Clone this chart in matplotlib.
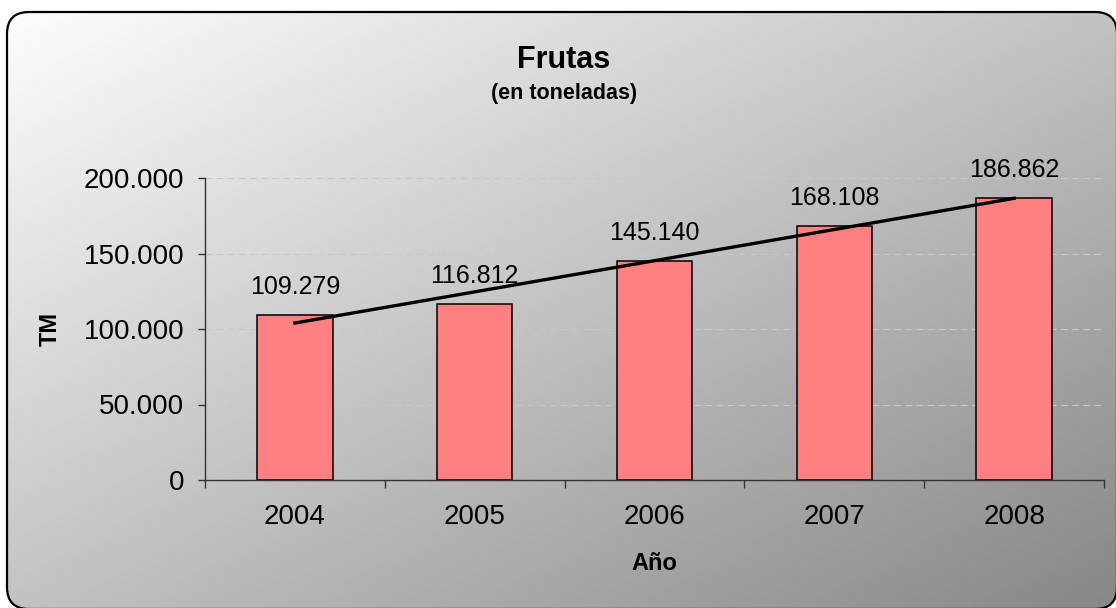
import numpy as np
import matplotlib
matplotlib.use("Agg")
import matplotlib.pyplot as plt
from matplotlib.patches import FancyBboxPatch
from matplotlib.ticker import FuncFormatter, FixedLocator

plt.rcParams['font.family'] = ['Liberation Sans', 'DejaVu Sans']

# ---- data ----
years = ["2004", "2005", "2006", "2007", "2008"]
values = [109279, 116812, 145140, 168108, 186862]
y_ticks = [0, 50000, 100000, 150000, 200000]
title = "Frutas"
subtitle = "(en toneladas)"
x_label = "Año"
y_label = "TM"

W, H = 1116, 608
fig = plt.figure(figsize=(W / 100, H / 100), dpi=100)
fig.patch.set_facecolor("white")

# ---- background gradient with rounded border ----
bg = fig.add_axes([0, 0, 1, 1], zorder=-10)
bg.set_xlim(0, W)
bg.set_ylim(H, 0)
bg.axis("off")
xx, yy = np.meshgrid(np.linspace(0, 1, 400), np.linspace(0, 1, 220))
t = (xx + yy) / 2.0
g = 1.0 - 0.47 * t
img = np.dstack([g, g, g])
im = bg.imshow(img, extent=(0, W, H, 0), aspect="auto", interpolation="bilinear")
box = FancyBboxPatch((7, 12), 1110, 597, boxstyle="round,pad=0,rounding_size=22",
                     facecolor="none", edgecolor="black", linewidth=1.6)
bg.add_patch(box)
im.set_clip_path(box)

# ---- main axes ----
left, right = 205 / W, 1104 / W
bottom, top = 1 - 480 / H, 1 - 178 / H
ax = fig.add_axes([left, bottom, right - left, top - bottom])
ax.set_facecolor("none")

x = np.arange(len(years))
ax.bar(x, values, width=0.42, color="#FF8080", edgecolor="black", linewidth=1.1, zorder=3)

# linear trendline
coef = np.polyfit(x, values, 1)
xt = np.array([x[0], x[-1]])
ax.plot(xt, np.polyval(coef, xt), color="black", linewidth=2.4, zorder=4)

for xi, v in zip(x, values):
    ax.annotate(f"{v:,}".replace(",", "."), xy=(xi, v), xytext=(0, 11.5),
                textcoords="offset points", ha="center", va="bottom",
                fontsize=18, color="black", zorder=5, annotation_clip=False)

ax.set_xlim(-0.5, len(years) - 0.5)
ax.set_ylim(0, 200000)

fmt = FuncFormatter(lambda v, p: f"{int(v):,}".replace(",", "."))
ax.yaxis.set_major_locator(FixedLocator(y_ticks))
ax.yaxis.set_major_formatter(fmt)
ax.tick_params(axis="y", direction="out", length=5, width=1, color="#333333",
               labelsize=20, pad=10)

ax.xaxis.set_major_locator(FixedLocator(np.arange(-0.5, len(years), 1.0)))
ax.xaxis.set_major_formatter(FuncFormatter(lambda v, p: ""))
ax.set_xticks(x, minor=True)
ax.set_xticklabels(years, minor=True)
ax.tick_params(axis="x", which="major", direction="out", length=6, width=1, color="#333333")
ax.tick_params(axis="x", which="minor", length=0, labelsize=20, pad=17)

ax.grid(axis="y", color="#c8c8c8", linestyle=(0, (6, 4)), linewidth=0.8, zorder=0)
ax.set_axisbelow(True)
for s in ["top", "right"]:
    ax.spines[s].set_visible(False)
for s in ["left", "bottom"]:
    ax.spines[s].set_color("#333333")
    ax.spines[s].set_linewidth(1.0)

# ---- texts ----
fig.text(564 / W, 1 - 68 / H, title, ha="center", va="baseline",
         fontsize=22, fontweight="bold")
fig.text(564 / W, 1 - 94 / H, subtitle, ha="center", va="center",
         fontsize=15.5, fontweight="bold")
fig.text(654.5 / W, 1 - 563 / H, x_label, ha="center", va="center",
         fontsize=17, fontweight="bold")
fig.text(50 / W, 1 - 329 / H, y_label, ha="center", va="center", rotation=90,
         fontsize=17, fontweight="bold")

fig.savefig("out.png", dpi=100)
